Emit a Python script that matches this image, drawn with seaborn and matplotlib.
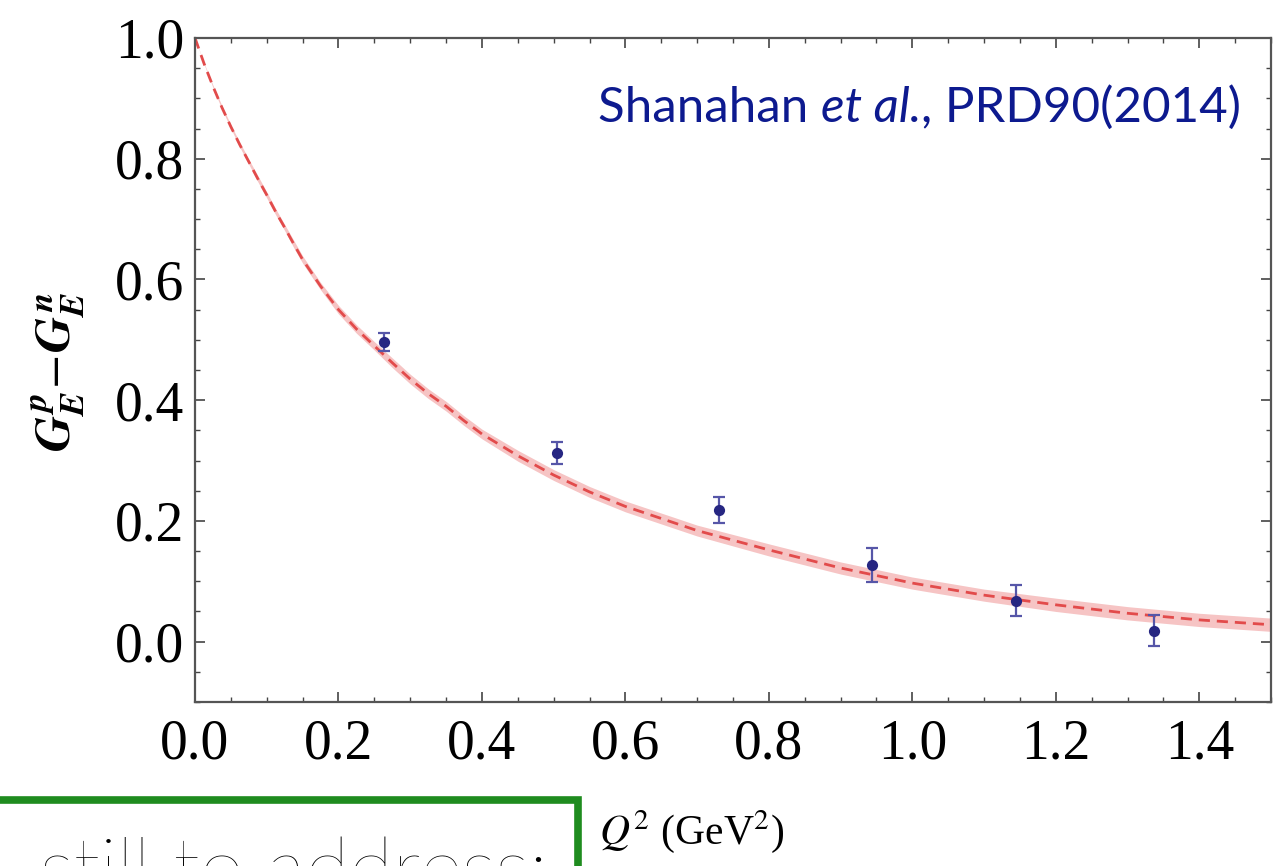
import numpy as np
import pandas as pd
import seaborn as sns
import matplotlib
matplotlib.use("Agg")
import matplotlib.pyplot as plt
from matplotlib.ticker import MultipleLocator
from matplotlib.patches import Rectangle

# ---- data ----
curve_q2 = [0.0, 0.0125, 0.025, 0.0375, 0.05, 0.0625, 0.075, 0.0875, 0.1, 0.1125, 0.125,
            0.1375, 0.15, 0.175, 0.2, 0.225, 0.25, 0.275, 0.3, 0.325, 0.35, 0.375, 0.4,
            0.45, 0.5, 0.55, 0.6, 0.7, 0.8, 0.9, 1.0, 1.1, 1.2, 1.3, 1.4, 1.5]
curve_val = [1.0, 0.958, 0.92, 0.885, 0.853, 0.823, 0.795, 0.767, 0.74, 0.712, 0.686,
             0.659, 0.633, 0.589, 0.55, 0.518, 0.49, 0.462, 0.435, 0.411, 0.39, 0.366, 0.344,
             0.308, 0.276, 0.248, 0.224, 0.184, 0.152, 0.122, 0.097, 0.077, 0.061, 0.047,
             0.036, 0.028]
curve_err = [0.0, 0.001, 0.002, 0.003, 0.003, 0.004, 0.004, 0.005, 0.005, 0.005, 0.005,
             0.006, 0.006, 0.006, 0.007, 0.007, 0.007, 0.008, 0.008, 0.008, 0.008, 0.008, 0.008,
             0.009, 0.009, 0.009, 0.009, 0.009, 0.010, 0.010, 0.010, 0.010, 0.011, 0.011,
             0.011, 0.011]

data_q2 = [0.264, 0.505, 0.731, 0.944, 1.145, 1.337]
data_val = [0.497, 0.313, 0.218, 0.127, 0.068, 0.018]
data_err = [0.015, 0.018, 0.022, 0.028, 0.025, 0.026]

x_ticks = [0.0, 0.2, 0.4, 0.6, 0.8, 1.0, 1.2, 1.4]
y_ticks = [0.0, 0.2, 0.4, 0.6, 0.8, 1.0]

curve_df = pd.DataFrame({"q2": curve_q2, "val": curve_val, "err": curve_err})
data_df = pd.DataFrame({"q2": data_q2, "val": data_val, "err": data_err})

sns.set_theme(style="ticks")
plt.rcParams["font.family"] = ["Liberation Serif", "DejaVu Serif"]
plt.rcParams["mathtext.fontset"] = "stix"

W, H = 1288, 866
fig = plt.figure(figsize=(W / 100, H / 100), dpi=100)
fig.patch.set_facecolor("white")
ax = fig.add_axes([195 / W, 1 - 702 / H, (1271 - 195) / W, (702 - 38) / H])
ax.set_facecolor("white")

band_color = "#f6c4c4"
line_color = "#e24b4b"
pt_color = "#262682"
err_color = "#5656a8"

lo = curve_df["val"] - curve_df["err"]
hi = curve_df["val"] + curve_df["err"]
ax.fill_between(curve_df["q2"], lo, hi, color=band_color, lw=0, zorder=1)
sns.lineplot(data=curve_df, x="q2", y="val", ax=ax, color=line_color, lw=2.0,
             linestyle=(0, (4, 2.5)), zorder=2, sort=False, estimator=None)

ax.errorbar(data_df["q2"], data_df["val"], yerr=data_df["err"], fmt="none",
            ecolor=err_color, elinewidth=1.6, capsize=4.3, capthick=1.6, zorder=3)
sns.scatterplot(data=data_df, x="q2", y="val", ax=ax, color=pt_color, s=65,
                edgecolor=pt_color, linewidth=0, zorder=4)

ax.set_xlim(0, 1.5)
ax.set_ylim(-0.1, 1.0)
ax.set_xticks(x_ticks)
ax.set_yticks(y_ticks)
ax.set_xticklabels([f"{v:.1f}" for v in x_ticks])
ax.set_yticklabels([f"{v:.1f}" for v in y_ticks])
ax.xaxis.set_minor_locator(MultipleLocator(0.05))
ax.yaxis.set_minor_locator(MultipleLocator(0.05))
ax.tick_params(which="both", direction="in", top=True, right=True, color="#444444")
ax.tick_params(which="major", length=7, width=1.2, labelsize=40, labelcolor="black")
ax.tick_params(which="minor", length=3.5, width=1.0)
ax.tick_params(axis="x", which="major", pad=12)
ax.tick_params(axis="y", which="major", pad=8)
for s in ax.spines.values():
    s.set_color("#555555")
    s.set_linewidth(1.6)
ax.set_xlabel("")
ax.set_ylabel("")

# axis labels
ylab = fig.text(58 / W, 1 - 372 / H, r"$\mathbfit{G}_{\mathbfit{E}}^{\,\mathbfit{p}}\!-\!\mathbfit{G}_{\mathbfit{E}}^{\,\mathbfit{n}}$",
                rotation=90, ha="center", va="center", fontsize=36, color="black")
try:
    fig.canvas.draw()
except Exception:
    ylab.set_text(r"$G_E^{\,p}\!-\!G_E^{\,n}$")
fig.text(692 / W, 1 - 832 / H, r"$Q^2$ (GeV$^2$)", ha="center", va="center",
         fontsize=30, color="black")

# citation text (mixed upright / italic)
cite_color = "#0d1a8f"
t1 = ax.text(598 / W, 1 - 130 / H, "Shanahan ", transform=fig.transFigure,
             ha="left", va="bottom", fontsize=35.5, color=cite_color, family="Lato")
t2 = ax.annotate("et al.", xy=(1, 0), xycoords=t1, ha="left", va="bottom",
                 fontsize=35.5, color=cite_color, family="Lato", style="italic")
t3 = ax.annotate(", PRD90(2014)", xy=(1, 0), xycoords=t2, ha="left", va="bottom",
                 fontsize=35.5, color=cite_color, family="Lato")

# green box with partially visible text at bottom left
green = "#1f8c1f"
fig.add_artist(Rectangle((-20 / W, -60 / H), 598 / W, (866 + 60 - 800) / H,
                         transform=fig.transFigure, fill=False, edgecolor=green,
                         lw=5.5, clip_on=False))
fig.text(548 / W, 1 - 896 / H, "still to address:", ha="right", va="baseline",
         fontsize=58, color="black", family="Lato", fontweight="light")

fig.savefig("out.png", dpi=100)
